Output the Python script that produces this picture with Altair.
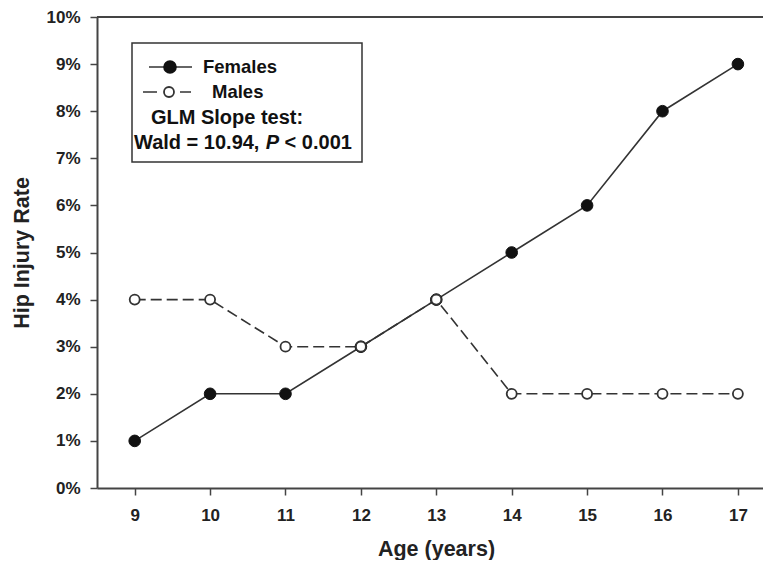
import altair as alt
import pandas as pd

# ---- data ----
ages = [9, 10, 11, 12, 13, 14, 15, 16, 17]
females = [0.01, 0.02, 0.02, 0.03, 0.04, 0.05, 0.06, 0.08, 0.09]
males = [0.04, 0.04, 0.03, 0.03, 0.04, 0.02, 0.02, 0.02, 0.02]
y_ticks = [0.00, 0.01, 0.02, 0.03, 0.04, 0.05, 0.06, 0.07, 0.08, 0.09, 0.10]
x_ticks = [9, 10, 11, 12, 13, 14, 15, 16, 17]
legend_labels = ["Females", "Males"]
stat_title = "GLM Slope test:"
stat_parts = ["Wald = 10.94,", "P", "< 0.001"]

FONT = "Liberation Sans"
W, H = 666, 471
INK = "#333333"

fdf = pd.DataFrame({"age": ages, "rate": females})
mdf = pd.DataFrame({"age": ages, "rate": males})
one = pd.DataFrame({"k": [0]})

xs = alt.Scale(domain=[8.5, 17.333], nice=False, zero=False)
ys = alt.Scale(domain=[0, 0.10], nice=False, zero=True)

x_axis = alt.Axis(values=x_ticks, title="Age (years)", grid=False, tickSize=7,
                  tickColor="#444", tickWidth=1.5, domainColor="#444", domainWidth=2,
                  labelFont=FONT, labelFontSize=17, labelFontWeight="bold",
                  labelColor="#222", labelPadding=12, format="d",
                  titleFont=FONT, titleFontSize=21.5, titleFontWeight="bold",
                  titleColor="#222", titleBaseline="alphabetic", titleX=339, titleY=67)
y_axis = alt.Axis(values=y_ticks, title="Hip Injury Rate", grid=False, tickSize=7,
                  tickColor="#444", tickWidth=1.5, domainColor="#444", domainWidth=2,
                  labelFont=FONT, labelFontSize=17, labelFontWeight="bold",
                  labelColor="#222", labelPadding=10, format=".0%",
                  titleFont=FONT, titleFontSize=21.5, titleFontWeight="bold",
                  titleColor="#222", titleBaseline="alphabetic", titleX=-69)

X = alt.X("age:Q", scale=xs, axis=x_axis)
Y = alt.Y("rate:Q", scale=ys, axis=y_axis)

f_line = alt.Chart(fdf).mark_line(color=INK, strokeWidth=1.6).encode(x=X, y=Y)
m_line = alt.Chart(mdf).mark_line(color=INK, strokeWidth=1.6, strokeDash=[11, 5]).encode(x=X, y=Y)
f_pts = alt.Chart(fdf).mark_point(shape="circle", filled=True, fill="#111", stroke="#111",
                                  strokeWidth=1, size=135, opacity=1).encode(x=X, y=Y)
m_pts = alt.Chart(mdf).mark_point(shape="circle", filled=True, fill="white", stroke=INK,
                                  strokeWidth=1.8, size=100, opacity=1).encode(x=X, y=Y)

top_rule = alt.Chart(one).mark_rule(color="#444", strokeWidth=2).encode(
    x=alt.value(0), x2=alt.value(W), y=alt.value(0))

# ---- legend box ----
box = alt.Chart(one).mark_rect(fill="white", stroke=INK, strokeWidth=1.5).encode(
    x=alt.value(35), x2=alt.value(265), y=alt.value(26), y2=alt.value(145))
lf_line = alt.Chart(one).mark_rule(color=INK, strokeWidth=1.6).encode(
    x=alt.value(52), x2=alt.value(95), y=alt.value(50))
lf_pt = alt.Chart(one).mark_point(shape="circle", filled=True, fill="#111", stroke="#111",
                                  size=135, opacity=1).encode(x=alt.value(73), y=alt.value(50))
lm_line = alt.Chart(one).mark_rule(color=INK, strokeWidth=1.6, strokeDash=[14, 23, 11]).encode(
    x=alt.value(46), x2=alt.value(94), y=alt.value(75))
lm_pt = alt.Chart(one).mark_point(shape="circle", filled=True, fill="white", stroke=INK,
                                  strokeWidth=1.8, size=100, opacity=1).encode(x=alt.value(72), y=alt.value(75))


def txt(s, x, y, size, italic=False, align="left"):
    return alt.Chart(one).mark_text(align=align, baseline="middle", font=FONT, fontSize=size,
                                    fontWeight="bold", fontStyle="italic" if italic else "normal",
                                    color="#111").encode(x=alt.value(x), y=alt.value(y),
                                                         text=alt.value(s))


t_f = txt(legend_labels[0], 106, 50, 18.5)
t_m = txt(legend_labels[1], 115, 75, 18.5)
t_g = txt(stat_title, 130, 101, 20, align="center")
t_w1 = txt(stat_parts[0], 37, 126, 20)
t_w2 = txt(stat_parts[1], 168.7, 126, 20, italic=True)
t_w3 = txt(stat_parts[2], 187.6, 126, 20)

chart = alt.layer(
    f_line, m_line, f_pts, m_pts, top_rule,
    box, lf_line, lf_pt, lm_line, lm_pt, t_f, t_m, t_g, t_w1, t_w2, t_w3
).properties(
    width=W, height=H,
    padding={"left": 89, "top": 9, "right": 0, "bottom": 72},
    autosize=alt.AutoSizeParams(type="none"),
).configure_view(stroke=None)

chart.save("out.html", embed_options={"renderer": "svg", "actions": False})
